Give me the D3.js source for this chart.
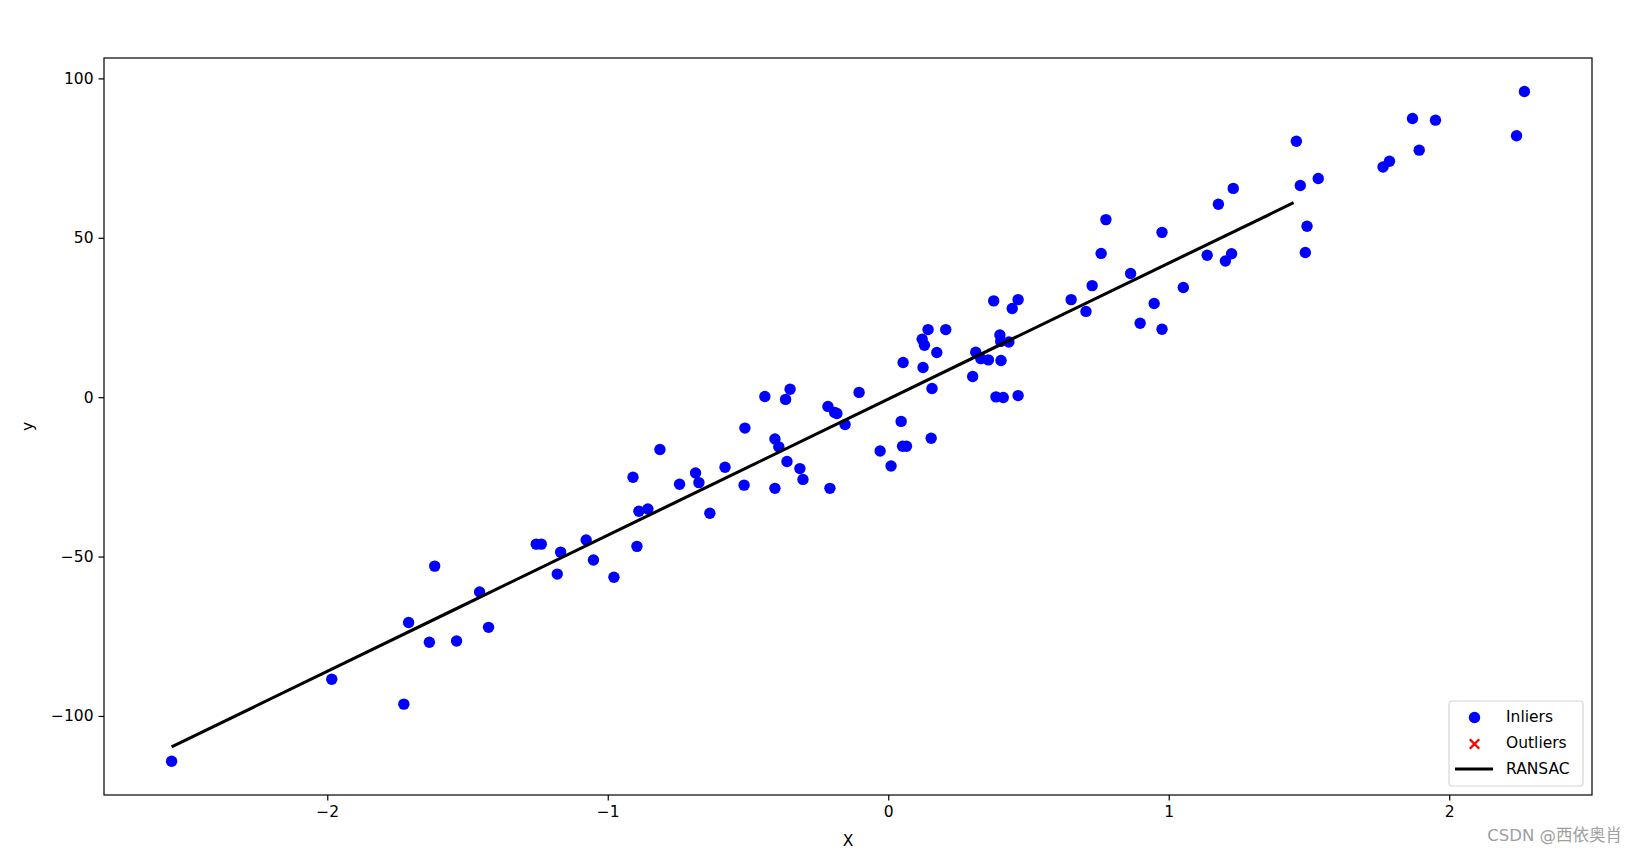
<!DOCTYPE html>
<html>
<head>
<meta charset="utf-8">
<script src="https://cdn.jsdelivr.net/npm/d3@7"></script>
<style>
  body { margin: 0; background: #fff; }
  svg { display: block; font-family: "DejaVu Sans", sans-serif; }
</style>
</head>
<body>
<svg width="1637" height="854"></svg>
<script>
// inlier points
var inX = [-2.555, -1.984, -1.727, -1.710, -1.636, -1.617, -1.539, -1.457, -1.425, -1.255,
  -1.237, -1.180, -1.168, -1.077, -1.051, -0.978, -0.910, -0.896, -0.889, -0.857,
  -0.814, -0.744, -0.687, -0.675, -0.636, -0.582, -0.514, -0.511, -0.440, -0.404,
  -0.404, -0.390, -0.366, -0.361, -0.350, -0.315, -0.304, -0.215, -0.208, -0.191,
  -0.183, -0.154, -0.104, -0.029, 0.010, 0.046, 0.053, 0.051, 0.065, 0.121,
  0.124, 0.129, 0.142, 0.153, 0.156, 0.173, 0.205, 0.301, 0.312, 0.330,
  0.357, 0.376, 0.384, 0.398, 0.401, 0.402, 0.410, 0.430, 0.442, 0.463,
  0.463, 0.652, 0.705, 0.727, 0.759, 0.776, 0.864, 0.898, 0.948, 0.976,
  0.976, 1.052, 1.137, 1.177, 1.202, 1.224, 1.230, 1.455, 1.469, 1.487,
  1.493, 1.533, 1.764, 1.787, 1.869, 1.893, 1.951, 2.240, 2.268];
var inY = [-114.2, -88.5, -96.3, -70.7, -76.9, -53.0, -76.5, -61.1, -72.2, -46.1,
  -46.1, -55.5, -48.6, -44.8, -51.1, -56.5, -25.1, -46.8, -35.8, -35.1,
  -16.4, -27.3, -23.8, -26.8, -36.4, -22.0, -27.6, -9.7, 0.2, -13.1,
  -28.6, -15.6, -0.7, -20.2, 2.5, -22.4, -25.8, -2.9, -28.6, -4.8,
  -5.1, -8.6, 1.5, -16.9, -21.6, -7.6, 10.9, -15.4, -15.4, 18.2,
  9.3, 16.3, 21.2, -12.9, 2.7, 14.0, 21.2, 6.5, 14.1, 12.1,
  11.7, 30.2, 0.1, 19.5, 17.5, 11.5, -0.1, 17.3, 27.8, 0.5,
  30.6, 30.6, 26.9, 35.0, 45.1, 55.7, 38.8, 23.2, 29.4, 51.7,
  21.3, 34.4, 44.5, 60.5, 42.7, 45.0, 65.5, 80.3, 66.4, 45.4,
  53.6, 68.6, 72.2, 74.0, 87.4, 77.5, 86.9, 82.0, 95.9];
var outX = [];
var outY = [];
// RANSAC line
var lineX = [-2.555, -1.555, -0.555, 0.445, 1.445];
var lineY = [-109.7, -67.0, -24.3, 18.4, 61.0];
var xTicks = [-2, -1, 0, 1, 2];
var yTicks = [-100, -50, 0, 50, 100];

var pLeft = 104, pTop = 58, pRight = 1592, pBottom = 795;
var fontSize = "15.5px";

var svg = d3.select("svg");

var x = d3.scaleLinear().domain([-2.796, 2.509]).range([pLeft, pRight]);
var y = d3.scaleLinear().domain([-124.8, 106.4]).range([pBottom, pTop]);

var points = inX.map(function(d, i) { return {x: d, y: inY[i]}; });
var outliers = outX.map(function(d, i) { return {x: d, y: outY[i]}; });
var line = lineX.map(function(d, i) { return {x: d, y: lineY[i]}; });

svg.append("g").selectAll("circle")
  .data(points)
  .enter().append("circle")
  .attr("cx", function(d) { return x(d.x); })
  .attr("cy", function(d) { return y(d.y); })
  .attr("r", 5.7)
  .attr("fill", "#0000ff");

svg.append("g").selectAll("path")
  .data(outliers)
  .enter().append("path")
  .attr("d", d3.symbol().type(d3.symbolX).size(60))
  .attr("transform", function(d) { return "translate(" + x(d.x) + "," + y(d.y) + ")"; })
  .attr("stroke", "red").attr("stroke-width", 2);

svg.append("path")
  .datum(line)
  .attr("fill", "none")
  .attr("stroke", "#000")
  .attr("stroke-width", 3.1)
  .attr("d", d3.line().x(function(d) { return x(d.x); }).y(function(d) { return y(d.y); }));

// axes
var fmt = d3.format("d");
var xAxis = svg.append("g")
  .attr("transform", "translate(0," + pBottom + ")")
  .call(d3.axisBottom(x).tickValues(xTicks).tickFormat(fmt).tickSize(5.5).tickPadding(5).tickSizeOuter(0));
var yAxis = svg.append("g")
  .attr("transform", "translate(" + pLeft + ",0)")
  .call(d3.axisLeft(y).tickValues(yTicks).tickFormat(fmt).tickSize(5.5).tickPadding(5).tickSizeOuter(0));
[xAxis, yAxis].forEach(function(a) {
  a.select(".domain").remove();
  a.selectAll("line").attr("stroke", "#000").attr("stroke-width", 1.2);
  a.selectAll("text").attr("fill", "#000")
    .style("font-size", fontSize).style("font-family", "DejaVu Sans");
});

svg.append("rect")
  .attr("x", pLeft).attr("y", pTop)
  .attr("width", pRight - pLeft).attr("height", pBottom - pTop)
  .attr("fill", "none").attr("stroke", "#000").attr("stroke-width", 1.2);

svg.append("text")
  .attr("x", (pLeft + pRight) / 2).attr("y", 846)
  .attr("text-anchor", "middle")
  .style("font-size", fontSize)
  .text("X");
svg.append("text")
  .attr("transform", "translate(33," + ((pTop + pBottom) / 2) + ") rotate(-90)")
  .attr("text-anchor", "middle")
  .style("font-size", fontSize)
  .text("y");

// legend
var lg = svg.append("g").attr("transform", "translate(1449,701)");
lg.append("rect")
  .attr("width", 134).attr("height", 85).attr("rx", 3)
  .attr("fill", "#fff").attr("stroke", "#d6d6d6").attr("stroke-width", 1.2);
lg.append("circle").attr("cx", 25.5).attr("cy", 16.5).attr("r", 5.7).attr("fill", "#0000ff");
lg.append("path")
  .attr("d", d3.symbol().type(d3.symbolX).size(60))
  .attr("transform", "translate(25.5,43)")
  .attr("stroke", "red").attr("stroke-width", 2.4);
lg.append("line")
  .attr("x1", 6).attr("x2", 44).attr("y1", 68).attr("y2", 68)
  .attr("stroke", "#000").attr("stroke-width", 3.1);
["Inliers", "Outliers", "RANSAC"].forEach(function(t, i) {
  lg.append("text")
    .attr("x", 57).attr("y", 16 + i * 26)
    .attr("dy", "0.35em")
    .style("font-size", fontSize)
    .text(t);
});

// watermark
svg.append("text")
  .attr("x", 1622).attr("y", 841)
  .attr("text-anchor", "end")
  .attr("fill", "#a0a0a0")
  .style("font-size", "16.5px")
  .style("font-family", "DejaVu Sans, 'Noto Sans CJK SC'")
  .text("CSDN @西依奥肖");
</script>
</body>
</html>
